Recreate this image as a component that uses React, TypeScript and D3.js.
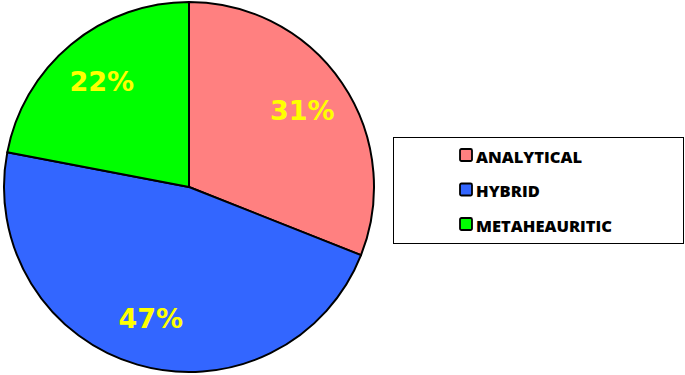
import React, { useRef, useEffect } from 'react';
import * as d3 from 'd3';

const categories = ['ANALYTICAL', 'HYBRID', 'METAHEAURITIC'];
const percents = [31, 47, 22];
const colors = ['#FF8080', '#3366FF', '#00FF00'];

const App = () => {
  const svgRef = useRef<SVGSVGElement>(null);

  useEffect(() => {
    const svg = d3.select(svgRef.current);
    svg.selectAll('*').remove();

    const cx = 189, cy = 187, r = 185;
    const data = categories.map((c, i) => ({ title: c, percent: percents[i], color: colors[i] }));
    const pie = d3.pie<any>().value(d => d.percent).sort(null);
    const arcs = pie(data);
    const arc = d3.arc<any>().innerRadius(0).outerRadius(r);
    const labelArc = d3.arc<any>().innerRadius(r * 0.74).outerRadius(r * 0.74);

    const g = svg.append('g').attr('transform', `translate(${cx},${cy})`);
    g.selectAll('path')
      .data(arcs)
      .join('path')
      .attr('d', arc)
      .attr('fill', d => d.data.color)
      .attr('stroke', '#000')
      .attr('stroke-width', 2)
      .attr('stroke-linejoin', 'round');

    g.selectAll('text')
      .data(arcs)
      .join('text')
      .attr('transform', d => `translate(${labelArc.centroid(d)})`)
      .attr('text-anchor', 'middle')
      .attr('dominant-baseline', 'central')
      .attr('font-family', 'DejaVu Sans')
      .attr('font-weight', 'bold')
      .attr('font-size', 27)
      .attr('fill', '#FFFF00')
      .text(d => d.data.percent + '%');

    // legend
    const lg = svg.append('g');
    lg.append('rect')
      .attr('x', 393.5).attr('y', 137.5)
      .attr('width', 290).attr('height', 106)
      .attr('fill', '#fff').attr('stroke', '#000').attr('stroke-width', 1);

    const rowY = d3.scalePoint<string>().domain(categories).range([155, 224]);
    const items = lg.selectAll('g.item')
      .data(data)
      .join('g')
      .attr('class', 'item')
      .attr('transform', d => `translate(460,${rowY(d.title)})`);
    items.append('rect')
      .attr('x', 0).attr('y', -6)
      .attr('width', 12).attr('height', 12)
      .attr('rx', 1.5)
      .attr('fill', d => d.color)
      .attr('stroke', '#000').attr('stroke-width', 1.8);
    items.append('text')
      .attr('x', 16).attr('y', 1)
      .attr('dominant-baseline', 'central')
      .attr('font-family', 'Open Sans')
      .attr('font-weight', 800)
      .attr('font-size', 16.5)
      .attr('fill', '#000')
      .text(d => d.title);
  }, []);

  return (
    <svg ref={svgRef} width={685} height={375}
      style={{ position: 'absolute', left: 0, top: 0, background: '#fff' }} />
  );
};

export default App;
